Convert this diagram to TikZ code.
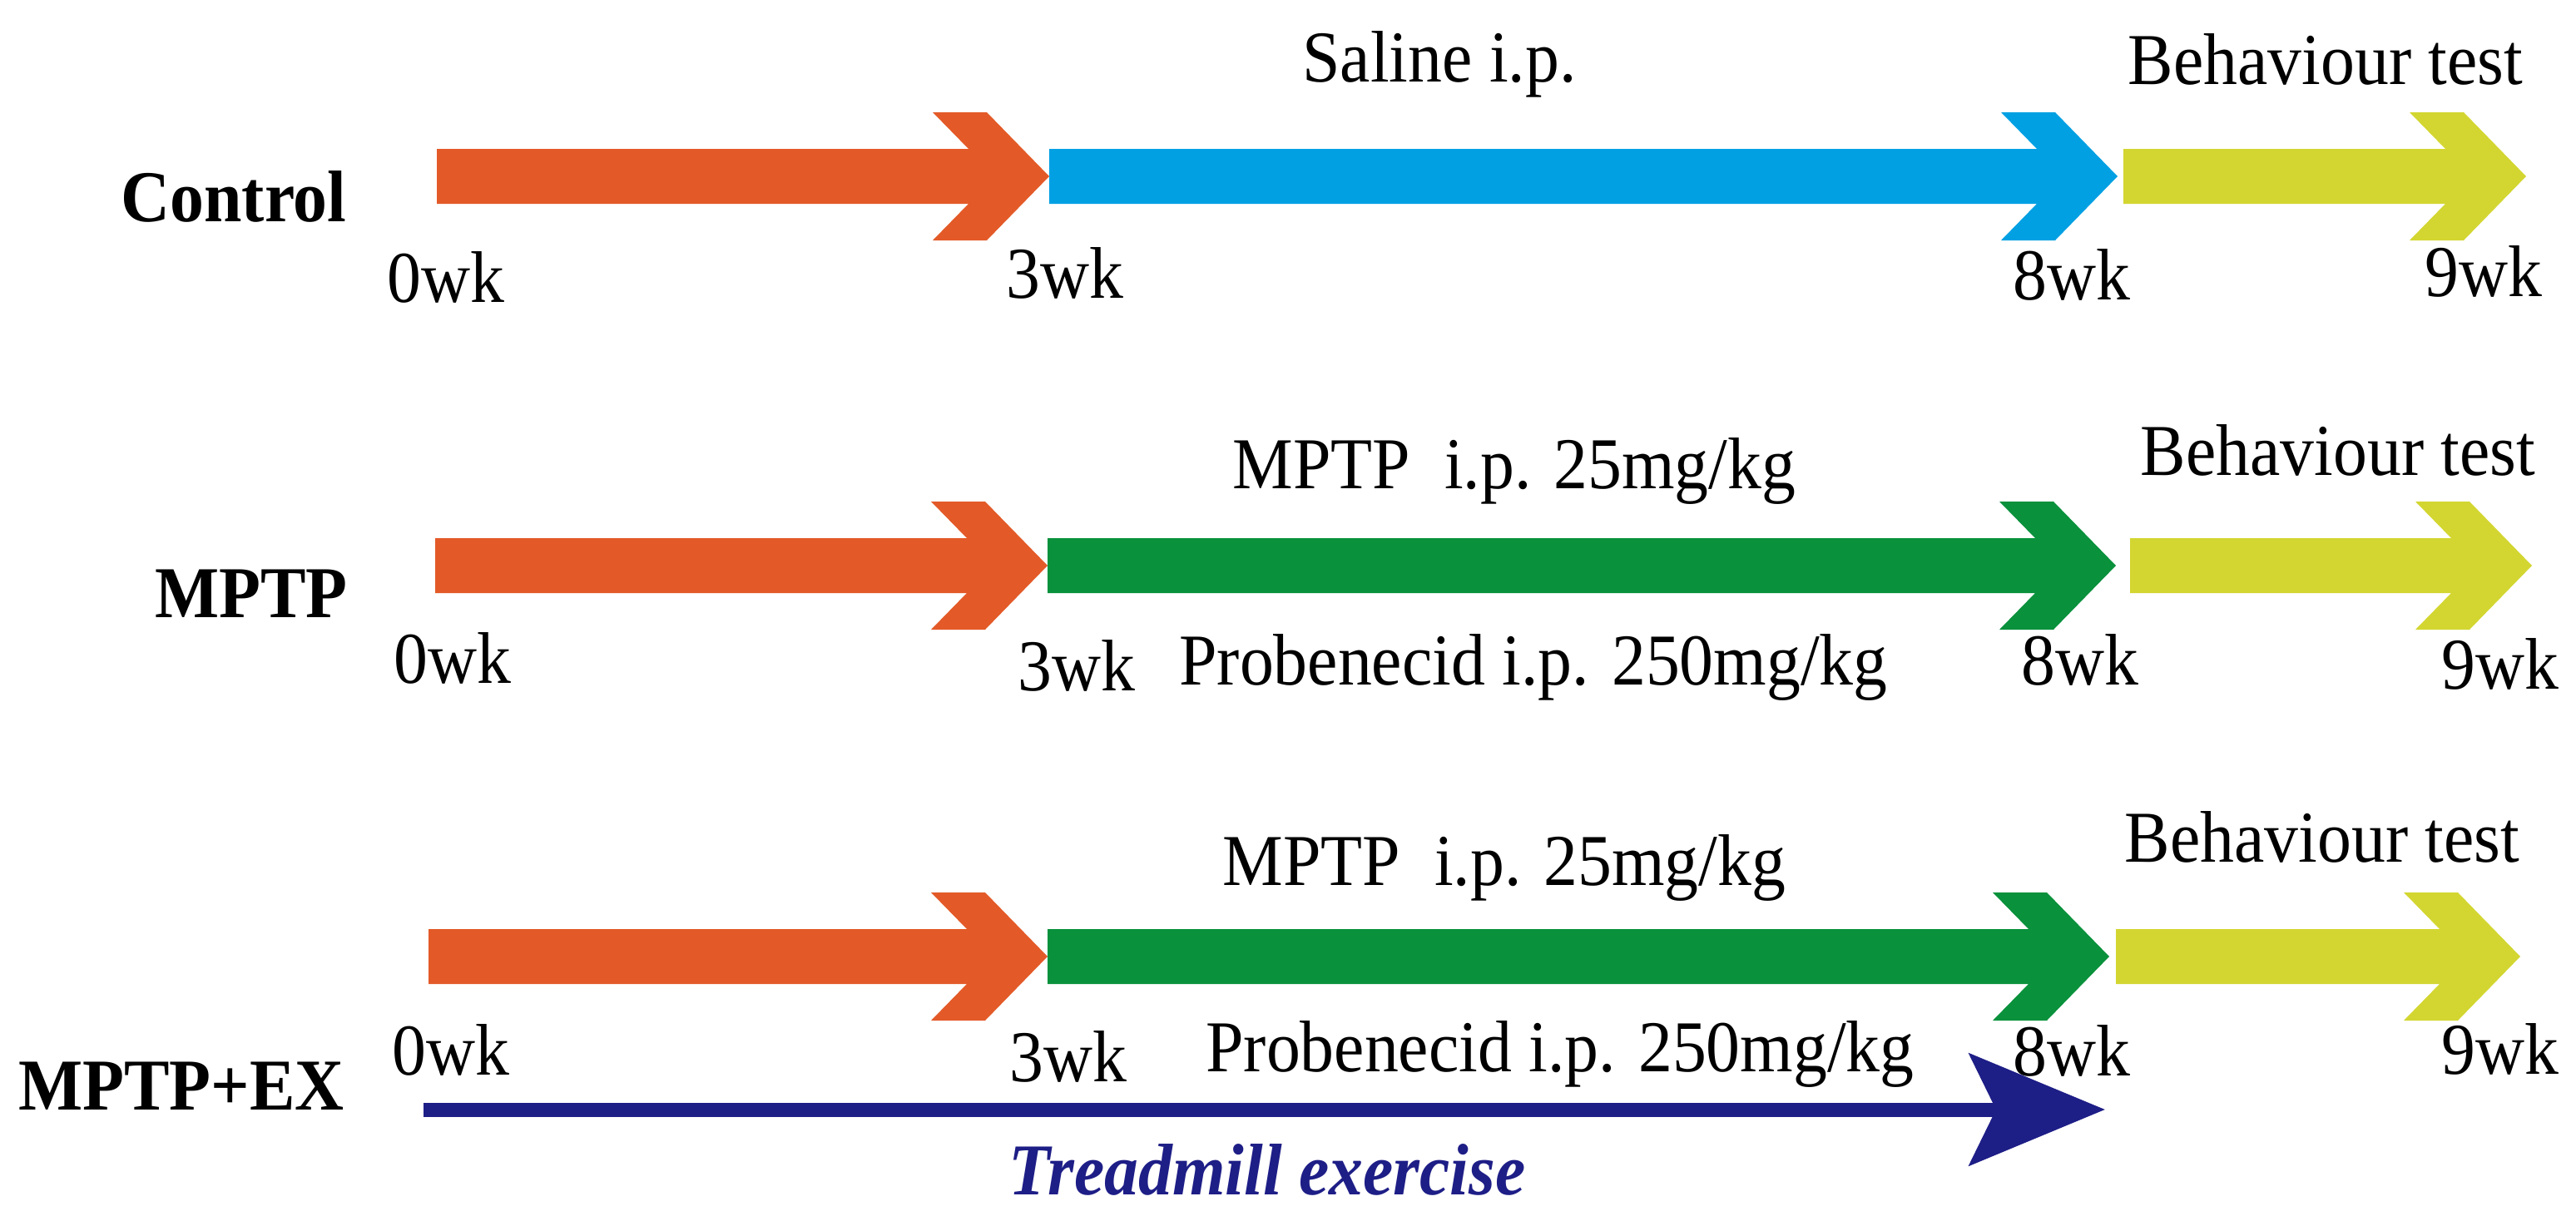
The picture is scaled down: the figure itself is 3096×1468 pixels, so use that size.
\documentclass[tikz,border=0pt]{standalone}
\usepackage{fontspec}
\setmainfont{Liberation Serif}[FakeStretch=0.93]
\usepackage{tikz}
\usetikzlibrary{arrows.meta}
\definecolor{tlOrange}{HTML}{E35A28}
\definecolor{tlBlue}{HTML}{00A0E3}
\definecolor{tlGreen}{HTML}{09913C}
\definecolor{tlYellow}{HTML}{D3D631}
\definecolor{tlNavy}{HTML}{1E1E87}
\tikzset{
  txt/.style={inner sep=0pt, anchor=base, font=\fontsize{25}{30}\selectfont},
  grouplbl/.style={txt, font=\fontsize{25}{30}\selectfont\bfseries},
  wklbl/.style={txt},
  druglbl/.style={txt},
  exlbl/.style={txt, font=\fontsize{25}{30}\selectfont\bfseries\itshape, text=tlNavy},
  prep/.style={fill=tlOrange},
  saline/.style={fill=tlBlue},
  mptp/.style={fill=tlGreen},
  behav/.style={fill=tlYellow},
  exline/.style={draw=tlNavy, line width=1.7mm, -{Stealth[length=16.3mm, width=13.4mm, inset=3.2mm]}}
}
% block arrow: start x, tip x, centre y, style
\newcommand{\phasebar}[4]{%
  \fill[#4] (#1,#3-33) -- (#2-97,#3-33) -- (#2-140,#3-77) -- (#2-75,#3-77) -- (#2,#3)
    -- (#2-75,#3+77) -- (#2-140,#3+77) -- (#2-97,#3+33) -- (#1,#3+33) -- cycle;}

\begin{document}
\begin{tikzpicture}[x=0.1mm, y=-0.1mm]
  \useasboundingbox (0,0) rectangle (3096,1468);
  % Control
  \phasebar{525}{1261}{212}{prep}
  \phasebar{1261}{2545}{212}{saline}
  \phasebar{2552}{3036}{212}{behav}
  % MPTP
  \phasebar{523}{1259}{680}{prep}
  \phasebar{1259}{2543}{680}{mptp}
  \phasebar{2560}{3043}{680}{behav}
  % MPTP+EX
  \phasebar{515}{1259}{1150}{prep}
  \phasebar{1259}{2535}{1150}{mptp}
  \phasebar{2543}{3029}{1150}{behav}

  \node[grouplbl] (ctrl) at (281,266) {Control};
  \node[grouplbl] (mp) at (302,742) {MPTP};
  \node[grouplbl] (mpex) at (218,1334) {MPTP+EX};

  \foreach \wx/\wy/\wt [count=\i] in {536/363/0wk, 1280/358/3wk, 2490/360/8wk, 2985/356/9wk,
      544/821/0wk, 1294/830/3wk, 2500/823/8wk, 3005/828/9wk,
      542/1292/0wk, 1284/1300/3wk, 2490/1293/8wk, 3005/1291/9wk}
    \node[wklbl] (wk\i) at (\wx,\wy) {\wt};

  \node[druglbl] (sal) at (1730,98) {Saline i.p.};
  \node[druglbl] (bt1) at (2795,101) {Behaviour test};
  \node[druglbl] (mp2) at (1820,587) {MPTP~ i.p. 25mg/kg};
  \node[druglbl] (bt2) at (2810,571) {Behaviour test};
  \node[druglbl] (pb2) at (1843,823) {Probenecid i.p. 250mg/kg};
  \node[druglbl] (mp3) at (1808,1064) {MPTP~ i.p. 25mg/kg};
  \node[druglbl] (bt3) at (2791,1036) {Behaviour test};
  \node[druglbl] (pb3) at (1875,1288) {Probenecid i.p. 250mg/kg};

  \coordinate (ex0) at (509,1334);
  \coordinate (ex1) at (2530,1334);
  \draw[exline] (ex0) -- (ex1);
  \node[exlbl] (tm) at (1523,1436) {Treadmill exercise};
\end{tikzpicture}
\end{document}
